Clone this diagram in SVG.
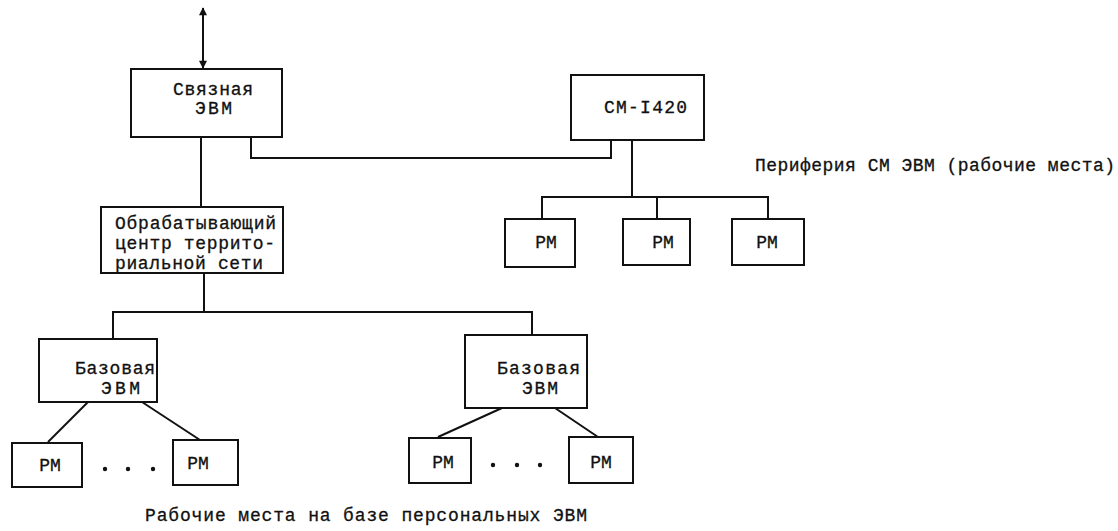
<svg xmlns="http://www.w3.org/2000/svg" width="1118" height="531" viewBox="0 0 1118 531">
<style>
.box{fill:#fff;stroke:#111;stroke-width:2}
.ln{fill:none;stroke:#111;stroke-width:2}
text{font-family:"Liberation Mono","DejaVu Sans Mono",monospace;font-size:18px;fill:#111;stroke:#111;stroke-width:0.3}
.c{text-anchor:middle}
</style>
<defs>
<marker id="ah" viewBox="0 0 10 10" refX="9" refY="5" markerWidth="14" markerHeight="8" orient="auto-start-reverse" markerUnits="userSpaceOnUse">
<path d="M0,0 L10,5 L0,10 z" fill="#111"/>
</marker>
</defs>
<rect width="1118" height="531" fill="#fff"/>
<g id="connectors">
<line class="ln" x1="203" y1="8" x2="203" y2="68" marker-start="url(#ah)" marker-end="url(#ah)"/>
<line class="ln" x1="201" y1="137" x2="201" y2="207"/>
<polyline class="ln" points="251,137 251,158 611,158 611,140"/>
<line class="ln" x1="632" y1="140" x2="632" y2="197"/>
<polyline class="ln" points="542,219 542,197 768,197 768,219"/>
<line class="ln" x1="657" y1="197" x2="657" y2="219"/>
<line class="ln" x1="204" y1="273" x2="204" y2="312"/>
<polyline class="ln" points="113,339 113,312 532,312 532,335"/>
<line class="ln" x1="88" y1="402" x2="48" y2="442"/>
<line class="ln" x1="142" y1="402" x2="200" y2="440"/>
<line class="ln" x1="502" y1="408" x2="438" y2="437"/>
<line class="ln" x1="555" y1="408" x2="598" y2="437"/>
</g>
<g id="n-svyaz">
<rect class="box" x="131" y="69" width="151" height="68"/>
<text x="173" y="95" textLength="80">Связная</text>
<text x="195" y="114" textLength="37">ЭВМ</text>
</g>
<g id="n-cm1420">
<rect class="box" x="571" y="75" width="133" height="65"/>
<text x="604" y="113" textLength="83">СМ-I420</text>
</g>
<g id="n-periph-label">
<text x="755" y="171" textLength="360">Периферия СМ ЭВМ (рабочие места)</text>
</g>
<g id="n-pm-top1">
<rect class="box" x="505" y="219" width="70" height="48"/>
<text class="c" x="546" y="248">РМ</text>
</g>
<g id="n-pm-top2">
<rect class="box" x="623" y="219" width="67" height="46"/>
<text class="c" x="663" y="248">РМ</text>
</g>
<g id="n-pm-top3">
<rect class="box" x="732" y="219" width="72" height="46"/>
<text class="c" x="767" y="248">РМ</text>
</g>
<g id="n-obrab">
<rect class="box" x="101" y="207" width="182" height="66"/>
<text x="115" y="229" textLength="161">Обрабатывающий</text>
<text x="115" y="249" textLength="160">центр террито-</text>
<text x="115" y="269" textLength="148">риальной сети</text>
</g>
<g id="n-base-left">
<rect class="box" x="39" y="339" width="118" height="63"/>
<text x="75" y="374" textLength="80">Базовая</text>
<text x="101" y="394" textLength="39">ЭВМ</text>
</g>
<g id="n-base-right">
<rect class="box" x="465" y="335" width="122" height="73"/>
<text x="497" y="374" textLength="83">Базовая</text>
<text x="522" y="394" textLength="36">ЭВМ</text>
</g>
<g id="n-pm-l1">
<rect class="box" x="12" y="443" width="70" height="44"/>
<text class="c" x="50" y="471">РМ</text>
</g>
<g id="n-pm-l2">
<rect class="box" x="173" y="440" width="65" height="45"/>
<text class="c" x="198" y="469">РМ</text>
</g>
<g id="n-pm-r1">
<rect class="box" x="409" y="438" width="62" height="45"/>
<text class="c" x="443" y="468">РМ</text>
</g>
<g id="n-pm-r2">
<rect class="box" x="569" y="437" width="64" height="46"/>
<text class="c" x="601" y="468">РМ</text>
</g>
<g id="dots">
<circle cx="105" cy="469" r="2.2" fill="#111"/>
<circle cx="128" cy="469" r="2.2" fill="#111"/>
<circle cx="153" cy="469" r="2.2" fill="#111"/>
<circle cx="493" cy="465" r="2.2" fill="#111"/>
<circle cx="517" cy="465" r="2.2" fill="#111"/>
<circle cx="540" cy="465" r="2.2" fill="#111"/>
</g>
<g id="n-bottom-label">
<text x="145" y="521" textLength="442">Рабочие места на базе персональных ЭВМ</text>
</g>
</svg>
